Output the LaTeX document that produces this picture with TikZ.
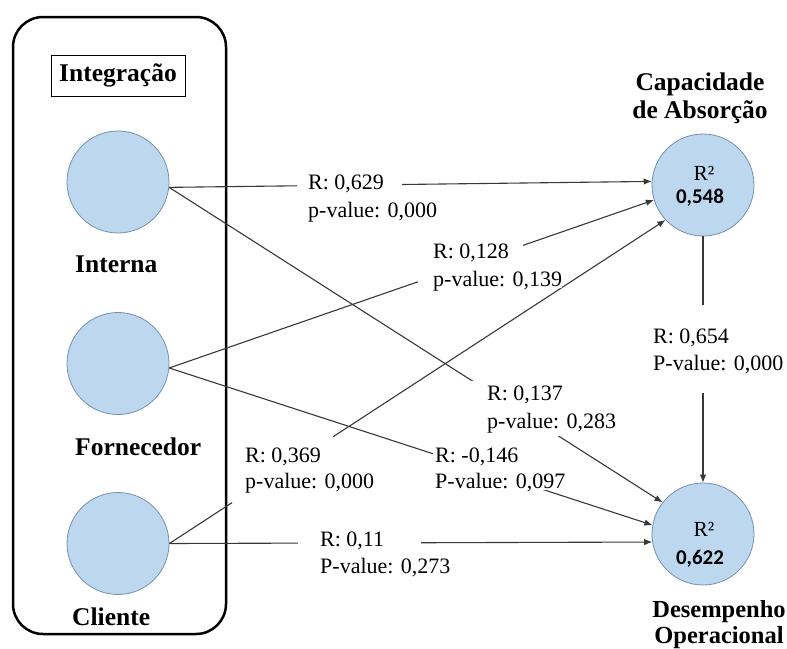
\documentclass[tikz,border=0pt]{standalone}
\usepackage{fontspec}
\setmainfont{LiberationSerif}[Extension=.ttf, UprightFont=*-Regular, BoldFont=*-Bold,
  ItalicFont=*-Italic, BoldItalicFont=*-BoldItalic]
\newfontfamily\numfont{Carlito}
\usetikzlibrary{arrows.meta}
\definecolor{nodefill}{HTML}{BDD7EE}
\definecolor{nodeline}{HTML}{7391AE}
\definecolor{linkgray}{HTML}{383838}

\begin{document}
\begin{tikzpicture}[x=1pt,y=-1pt,
  latent/.style={circle, fill=nodefill, draw=nodeline, line width=0.8pt, minimum size=102pt, inner sep=0pt},
  title/.style={inner sep=0pt, font=\fontsize{25.5}{28}\selectfont\bfseries},
  link/.style={draw=linkgray, line width=1.1pt},
  arrowlink/.style={link, -{Latex[length=8pt,width=6.5pt]}},
  lbl/.style={fill=white, inner xsep=0pt, inner ysep=2pt, text height=18.5pt, text depth=6pt,
              anchor=base west, font=\fontsize{22}{27}\selectfont},
  rsq/.style={inner sep=0pt, anchor=base, font=\fontsize{21.5}{24}\selectfont},
  rval/.style={inner sep=0pt, anchor=base, font=\numfont\bfseries\fontsize{21}{24}\selectfont},
]
\useasboundingbox (0,0) rectangle (787,648);

% frame around the integration constructs
\draw[line width=2.5pt, rounded corners=30pt] (13,17) rectangle (226,634);
\node[draw, line width=0.8pt, minimum width=134pt, minimum height=41pt, title,
      text height=17pt, text depth=5pt] (grp) at (118,75.5) {Integração};

% latent variables
\node[latent] (int)  at (118,182)   {};
\node[latent] (forn) at (118,363.5) {};
\node[latent] (cli)  at (118,543.5) {};
\node[latent] (cap)  at (703,185)   {};
\node[latent] (des)  at (703,534)   {};

% names of the constructs (multi-line nodes are placed by their last baseline)
\node[title, anchor=base west] (intname)  at (75,272) {Interna};
\node[title, anchor=base west] (fornname) at (75,455) {Fornecedor};
\node[title, anchor=base west] (cliname)  at (72,625) {Cliente};
\node[title, align=center, anchor=base] (capname) at (700,118) {Capacidade\\de Absorção};
\node[title, align=center, anchor=base, font=\fontsize{24.5}{26}\selectfont\bfseries]
      (desname) at (719,643) {Desempenho\\Operacional};

% explained variance
\node[rsq]  (capr2)  at (704,180) {R²};
\node[rval] (capval) at (700,203) {0,548};
\node[rsq]  (desr2)  at (704,536) {R²};
\node[rval] (desval) at (700,564) {0,622};

% structural paths
\draw[arrowlink] (int.-6)   -- (cap.176);
\draw[arrowlink] (int.-6)   -- (des.142);
\draw[arrowlink] (forn.-5)  -- (cap.197);
\draw[arrowlink] (forn.-5)  -- (des.170);
\draw[arrowlink] (cli.east) -- (cap.223);
\draw[arrowlink] (cli.east) -- (des.189);
\draw[arrowlink] (cap.south) -- (des.north);

% path coefficients (white backgrounds interrupt the paths)
\node[lbl] (r629) at (297,189) {\hspace*{11pt}R: 0,629\hspace*{18pt}};
\node[lbl] (p629) at (308,217) {p-value: 0,000};
\node[lbl] (r128) at (433,258) {R: 0,128\hspace*{14pt}};
\node[lbl, text depth=0pt] (p128) at (418,286) {\hspace*{15pt}p-value: 0,139};
\node[lbl, text height=36pt] (r654) at (653,343) {R: 0,654};
\node[lbl, text depth=21pt]  (p654) at (653,370) {P-value: 0,000};
\node[lbl, text height=17pt] (r137) at (470,400) {\hspace*{17pt}R: 0,137\hspace*{2pt}};
\node[lbl] (p137) at (487,428) {p-value: 0,283};
\node[lbl, text height=25pt] (r369) at (245,462) {R: 0,369\hspace*{12pt}};
\node[lbl, text depth=13pt]  (p369) at (232,488) {\hspace*{13pt}p-value: 0,000};
\node[lbl, text height=17pt] (r146) at (433,462) {\hspace*{2pt}R: -0,146};
\node[lbl, text depth=-2pt] (p146) at (435,488) {P-value: 0,097};
\node[lbl] (r11) at (298,546) {\hspace*{22pt}R: 0,11\hspace*{37pt}};
\node[lbl] (p11) at (320,573) {P-value: 0,273};
\end{tikzpicture}
\end{document}
